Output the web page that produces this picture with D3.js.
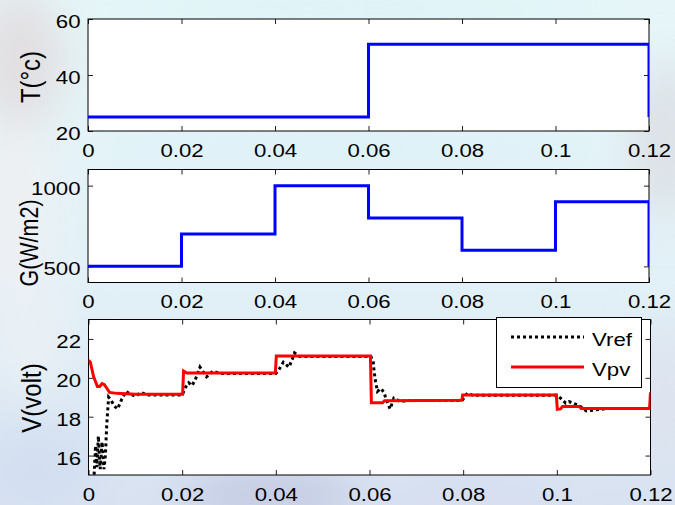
<!DOCTYPE html>
<html>
<head>
<meta charset="utf-8">
<script src="https://cdn.jsdelivr.net/npm/d3@7"></script>
<style>
  html, body { margin: 0; padding: 0; background: #e6f4f7; }
  svg { display: block; }
  text { font-family: "Liberation Sans", Arial, Helvetica, sans-serif; fill: #000; }
</style>
</head>
<body>
<svg id="chart" width="675" height="505"></svg>
<script>
// ---------------- data ----------------
const xTicks = [0, 0.02, 0.04, 0.06, 0.08, 0.1, 0.12];

// Temperature T (°C)
const tempTime = [0, 0.06, 0.06, 0.12, 0.12];
const tempVal  = [25, 25, 51, 51, 25];
const tempTicks = [20, 40, 60];

// Irradiance G (W/m2)
const irrTime = [0, 0.02, 0.02, 0.04, 0.04, 0.06, 0.06, 0.08, 0.08, 0.1, 0.1, 0.12, 0.12];
const irrVal  = [500, 500, 700, 700, 1000, 1000, 800, 800, 600, 600, 900, 900, 500];
const irrTicks = [500, 1000];

// Voltage: Vref (dotted) and Vpv (red)
const vrefTime = [0, 0.0012, 0.0015, 0.0018, 0.0021, 0.0025, 0.0029, 0.0033, 0.0036, 0.0039, 0.0043,
  0.0048, 0.0055, 0.0062, 0.0071, 0.008, 0.009, 0.0101, 0.0112, 0.0125, 0.02,
  0.0207, 0.0214, 0.0221, 0.0228, 0.0238, 0.0252, 0.0266, 0.028, 0.04,
  0.0406, 0.0416, 0.0428, 0.0435, 0.044, 0.0451, 0.0603,
  0.0608, 0.061, 0.0613, 0.0617, 0.0624, 0.0631, 0.0636, 0.0644, 0.0652, 0.0666, 0.068, 0.0798,
  0.0805, 0.081, 0.082, 0.1,
  0.1008, 0.1019, 0.1026, 0.1036, 0.1046, 0.1063, 0.109, 0.111, 0.12];
const vrefVal = [13.5, 15.0, 16.5, 15.4, 17.0, 15.3, 16.7, 15.3, 16.0, 17.6, 19.0,
  18.85, 18.55, 18.4, 18.9, 19.3, 19.15, 19.05, 19.25, 19.12, 19.12,
  19.5, 19.75, 19.6, 19.9, 20.55, 20.05, 20.35, 20.22, 20.22,
  20.4, 20.8, 20.55, 20.95, 21.28, 21.1, 21.1,
  20.8, 20.3, 19.8, 19.3, 19.45, 19.25, 18.85, 18.4, 18.95, 18.78, 18.83, 18.83,
  19.1, 19.22, 19.1, 19.1,
  18.95, 18.7, 18.78, 18.68, 18.6, 18.3, 18.37, 18.42, 18.42];

const vpvTime = [0, 0.0004, 0.0011, 0.0019, 0.0024, 0.0029, 0.0034, 0.0038, 0.0045, 0.006, 0.01,
  0.0201, 0.0203, 0.021, 0.0399, 0.0401, 0.0602, 0.0604, 0.0628, 0.0632, 0.0797, 0.0799,
  0.0999, 0.1001, 0.1008, 0.1012, 0.1048, 0.1052, 0.1198, 0.12];
const vpvVal = [20.9, 20.8, 20.05, 19.55, 19.55, 19.7, 19.65, 19.5, 19.25, 19.2, 19.15,
  19.15, 20.35, 20.25, 20.25, 21.12, 21.12, 18.72, 18.72, 18.82, 18.85, 19.12,
  19.12, 18.38, 18.4, 18.52, 18.52, 18.42, 18.42, 19.25];
const vTicks = [16, 18, 20, 22];

const legendLabels = ["Vref", "Vpv"];

// ---------------- drawing ----------------
const svg = d3.select("#chart");
const W = 675, H = 505;
const SX = 1.17; // horizontal stretch of text

// Background (soft blurred image-like backdrop)
const defs = svg.append("defs");
const blur = defs.append("filter").attr("id", "blur")
  .attr("x", "-50%").attr("y", "-50%").attr("width", "200%").attr("height", "200%");
blur.append("feGaussianBlur").attr("stdDeviation", 22);
const bgGrad = defs.append("linearGradient").attr("id", "bgGrad")
  .attr("x1", 0).attr("y1", 0).attr("x2", 0).attr("y2", 1);
bgGrad.append("stop").attr("offset", "0%").attr("stop-color", "#e6f6f8");
bgGrad.append("stop").attr("offset", "55%").attr("stop-color", "#e2f1f7");
bgGrad.append("stop").attr("offset", "100%").attr("stop-color", "#d8e2f1");
svg.append("rect").attr("width", W).attr("height", H).attr("fill", "url(#bgGrad)");
const blobs = [
  [20, 60, 45, 70, "#e2dfe2"],
  [15, 210, 40, 90, "#eef0f3"],
  [30, 330, 40, 60, "#eaf0f5"],
  [40, 470, 60, 40, "#d3def1"],
  [270, 495, 90, 25, "#c3c9e2"],
  [470, 500, 90, 20, "#d6ddf0"],
  [665, 140, 30, 80, "#dcdfe4"],
  [665, 400, 25, 80, "#dde2ee"],
  [350, 150, 250, 18, "#dcf1f8"],
  [350, 8, 260, 14, "#daf3f6"]
];
const bg = svg.append("g").attr("filter", "url(#blur)");
blobs.forEach(b => bg.append("ellipse").attr("cx", b[0]).attr("cy", b[1])
  .attr("rx", b[2]).attr("ry", b[3]).attr("fill", b[4]));

const fmtX = d => d === 0 ? "0" : String(+d.toFixed(2));
const fmtY = d => String(d);

function panel(box, yDomain, yTicks, label, labelSize, labelX, labelY, id) {
  const x = d3.scaleLinear().domain([0, 0.12]).range([box.l, box.r]);
  const y = d3.scaleLinear().domain(yDomain).range([box.b, box.t]);
  const g = svg.append("g");
  g.append("rect").attr("x", box.l).attr("y", box.t)
    .attr("width", box.r - box.l).attr("height", box.b - box.t).attr("fill", "#fff");
  defs.append("clipPath").attr("id", "clip" + id).append("rect")
    .attr("x", box.l).attr("y", box.t - 2).attr("width", box.r - box.l).attr("height", box.b - box.t + 4);

  // axes with inward ticks
  [[d3.axisBottom(x), box.b, true], [d3.axisTop(x), box.t, false]].forEach(([a, pos, lab]) => {
    const gg = g.append("g").attr("transform", `translate(0,${pos})`)
      .call(a.tickValues(xTicks).tickSize(-5).tickFormat(lab ? fmtX : () => ""));
    gg.select(".domain").remove();
    gg.selectAll("line").attr("stroke", "#222");
    if (lab) {
      gg.selectAll("text").attr("y", 26).attr("dy", 0)
        .style("font-size", "19px").attr("transform", `scale(${SX},1)`);
    } else gg.selectAll("text").remove();
  });
  [[d3.axisLeft(y), box.l, true], [d3.axisRight(y), box.r, false]].forEach(([a, pos, lab]) => {
    const gg = g.append("g").attr("transform", `translate(${pos},0)`)
      .call(a.tickValues(yTicks).tickSize(-5).tickFormat(fmtY));
    gg.select(".domain").remove();
    gg.selectAll("line").attr("stroke", "#222");
    if (lab) {
      gg.selectAll("text").attr("x", -7.5 / SX).attr("y", 8.5).attr("dy", 0)
        .style("font-size", "19px").attr("transform", `scale(${SX},1)`);
    } else gg.selectAll("text").remove();
  });
  g.append("rect").attr("x", box.l).attr("y", box.t)
    .attr("width", box.r - box.l).attr("height", box.b - box.t)
    .attr("fill", "none").attr("stroke", "#000").attr("stroke-width", 1);

  // y label
  svg.append("text")
    .attr("transform", `translate(${labelX},${labelY}) scale(${SX},1) rotate(-90)`)
    .attr("text-anchor", "middle").attr("dy", "0.35em")
    .style("font-size", labelSize + "px").text(label);
  return { x, y, clip: "url(#clip" + id + ")" };
}

function drawLine(p, times, vals, color, width, dash) {
  const pts = times.map((t, i) => [t, vals[i]]);
  const line = d3.line().x(d => p.x(d[0])).y(d => p.y(d[1]));
  const path = svg.append("path").datum(pts).attr("d", line)
    .attr("fill", "none").attr("stroke", color).attr("stroke-width", width)
    .attr("stroke-linejoin", "miter").attr("clip-path", p.clip);
  if (dash) path.attr("stroke-dasharray", dash);
  return path;
}

const p1 = panel({ l: 88, r: 649, t: 19, b: 131 }, [20, 60], tempTicks, "T(°c)", 24, 30, 77, 1);
drawLine(p1, tempTime, tempVal, "#0000ff", 3);

const p2 = panel({ l: 88, r: 649, t: 169.5, b: 282.5 }, [400, 1100], irrTicks, "G(W/m2)", 21.5, 29.5, 243, 2);
drawLine(p2, irrTime, irrVal, "#0000ff", 3);

const p3 = panel({ l: 88.5, r: 650.5, t: 319.5, b: 475 }, [15, 23], vTicks, "V(volt)", 24, 31, 398, 3);
drawLine(p3, vrefTime, vrefVal, "#000", 3, "3,3");
drawLine(p3, vpvTime, vpvVal, "#ff0000", 3);

// Legend
const lg = svg.append("g");
lg.append("rect").attr("x", 496.5).attr("y", 317.5).attr("width", 145).attr("height", 70)
  .attr("fill", "#fff").attr("stroke", "#000").attr("stroke-width", 1);
const legStyles = [
  { color: "#000", dash: "3,3", y: 337 },
  { color: "#ff0000", dash: null, y: 367 }
];
legendLabels.forEach((name, i) => {
  const s = legStyles[i];
  const l = lg.append("line").attr("x1", 511).attr("x2", 584).attr("y1", s.y).attr("y2", s.y)
    .attr("stroke", s.color).attr("stroke-width", 3);
  if (s.dash) l.attr("stroke-dasharray", s.dash);
  lg.append("text").attr("transform", `translate(592,${s.y + 9}) scale(${SX},1)`)
    .style("font-size", "19px").text(name);
});
</script>
</body>
</html>
